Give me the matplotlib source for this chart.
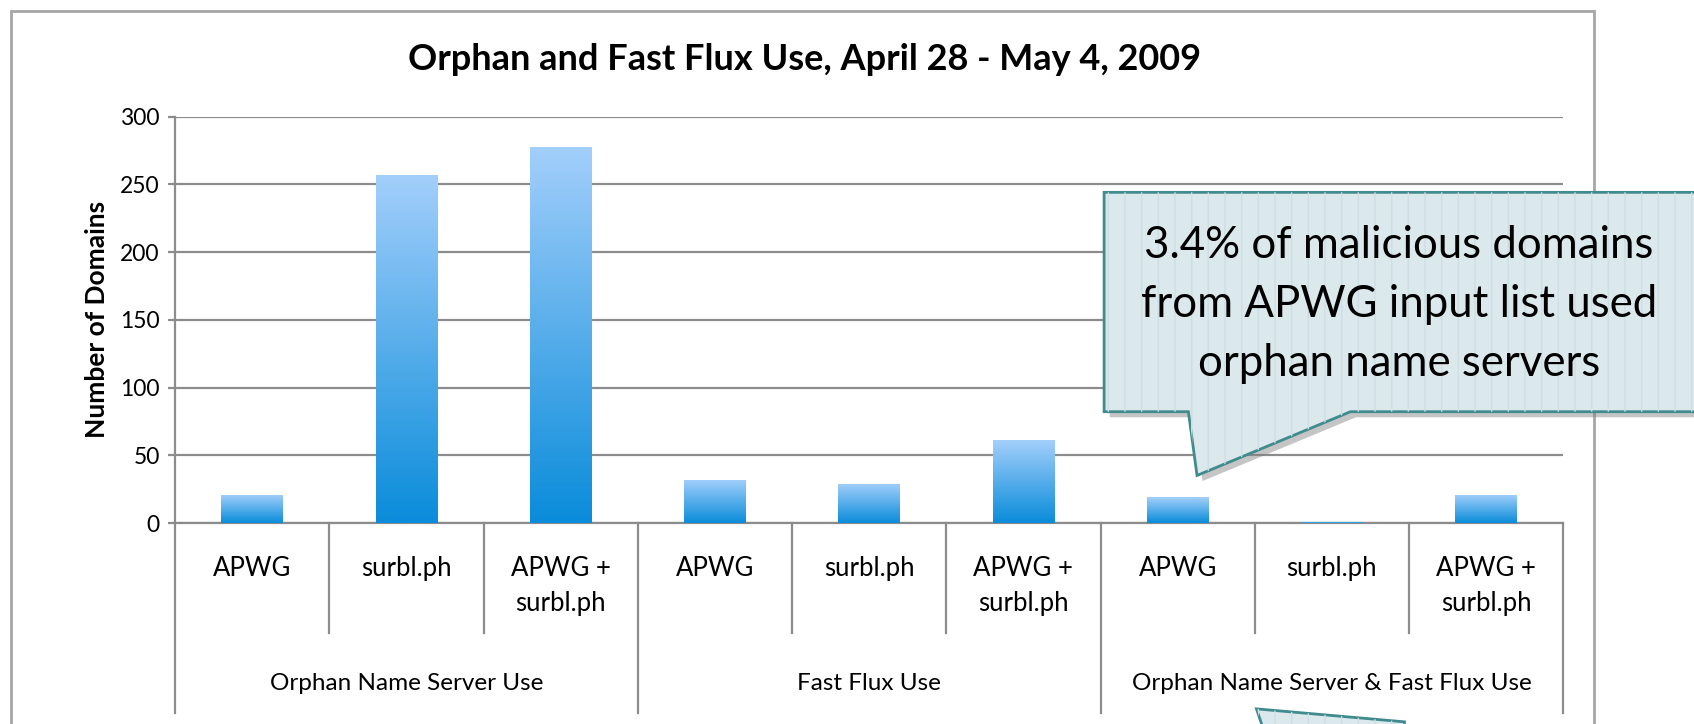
import numpy as np
import matplotlib.pyplot as plt
from matplotlib.patches import Rectangle, Polygon
from matplotlib.colors import LinearSegmentedColormap
import matplotlib.patheffects as pe

plt.rcParams['font.family'] = ['Lato', 'DejaVu Sans']

# data
groups = ['Orphan Name Server Use', 'Fast Flux Use', 'Orphan Name Server & Fast Flux Use']
sources = ['APWG', 'surbl.ph', 'APWG +\nsurbl.ph']
counts = [21, 257, 278, 32, 29, 61, 19, 1, 21]
yticks = [0, 50, 100, 150, 200, 250, 300]
title = 'Orphan and Fast Flux Use, April 28 - May 4, 2009'
ylabel = 'Number of Domains'
callout = '3.4% of malicious domains\nfrom APWG input list used\norphan name servers'

GRID = '#8c8c8c'
W, H = 1568, 670  # layout measured on a 1568x670 view of the reference


def fxy(x, y):
    return (x / W, 1 - y / H)


fig = plt.figure(figsize=(16.94, 7.24), dpi=100)
ax = fig.add_axes([162 / W, 1 - 484 / H, (1447 - 162) / W, (484 - 108) / H])

# bars with a vertical blue gradient
cmap = LinearSegmentedColormap.from_list('bar', ['#0a8cda', '#a3cffb'])
grad = np.linspace(0, 1, 256).reshape(-1, 1)
xpos = np.arange(len(counts)) + 0.5
bars = ax.bar(xpos, counts, width=0.4, color='none', edgecolor='none', zorder=3)
for b in bars:
    x0, h, w = b.get_x(), b.get_height(), b.get_width()
    im = ax.imshow(grad, extent=[x0, x0 + w, 0, h], origin='lower', aspect='auto',
                   cmap=cmap, zorder=3, interpolation='bilinear')
    im.set_clip_path(b)

ax.set_xlim(0, len(counts))
ax.set_ylim(0, 300)
ax.set_yticks(yticks)
ax.set_xticks([])
ax.yaxis.grid(True, color=GRID, lw=1.6)
ax.set_axisbelow(True)
for s in ['top', 'right']:
    ax.spines[s].set_visible(False)
for s in ['left', 'bottom']:
    ax.spines[s].set_color(GRID)
    ax.spines[s].set_linewidth(1.6)
ax.tick_params(axis='y', direction='out', length=5, width=1.6, color=GRID,
               labelsize=16.5, pad=6)

# two-level category axis
tr = ax.get_xaxis_transform()
for i in range(len(counts) + 1):
    low = -0.468 if i % 3 == 0 else -0.27
    ax.plot([i, i], [0, low], transform=tr, color=GRID, lw=1.6, clip_on=False)
for i in range(len(counts)):
    ax.text(i + 0.5, -0.082, sources[i % 3], transform=tr, ha='center', va='top',
            fontsize=18.5, linespacing=1.5)
for g, name in enumerate(groups):
    ax.text(3 * g + 1.5, -0.394, name, transform=tr, ha='center', va='center',
            fontsize=17.5)

fig.text(*fxy(745, 55), title, ha='center', va='center', fontsize=26, fontweight='bold')
fig.text(*fxy(90, 296), ylabel, ha='center', va='center', rotation=90,
         fontsize=19, fontweight='bold')

# outer chart frame
fig.patches.append(Rectangle((10 / W, -0.1), 1465 / W, 1.1 - 10 / H, fill=False,
                             edgecolor='#a6a6a6', lw=2, transform=fig.transFigure))

# speech-bubble callouts
bubble = [(1022, 178), (1620, 178), (1620, 381), (1250, 381), (1108, 440),
          (1100, 381), (1022, 381)]
tail2 = [(1163, 656), (1300, 668), (1300, 700), (1178, 700)]
shadow = [pe.SimplePatchShadow(offset=(4, -4), shadow_rgbFace='#808080', alpha=0.45),
          pe.Normal()]
for pts in (bubble, tail2):
    poly = Polygon([fxy(x, y) for x, y in pts], closed=True, facecolor='#dbe8ec',
                   edgecolor='#3f8b8e', lw=2, transform=fig.transFigure,
                   path_effects=shadow, zorder=5)
    fig.patches.append(poly)
    stripes = Polygon([fxy(x, y) for x, y in pts], closed=True, facecolor='none',
                      edgecolor='#cddfe4', lw=0, hatch='|', transform=fig.transFigure,
                      zorder=5.1)
    fig.patches.append(stripes)

fig.text(*fxy(1295, 282), callout, ha='center', va='center', fontsize=31.5,
         linespacing=1.55, zorder=6)

fig.savefig('out.png', dpi=100)
